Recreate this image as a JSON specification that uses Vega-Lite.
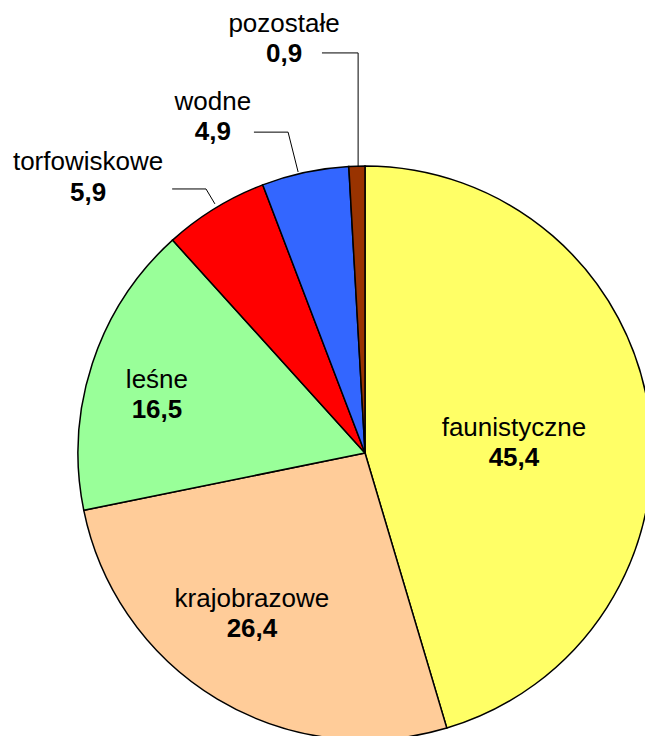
{
  "$schema": "https://vega.github.io/schema/vega-lite/v6.json",
  "width": 645,
  "height": 736,
  "autosize": {"type": "none"},
  "padding": 0,
  "background": "white",
  "datasets": {
    "slices": [
      {"idx": 1, "kategoria": "faunistyczne", "udzial": 45.4},
      {"idx": 2, "kategoria": "krajobrazowe", "udzial": 26.4},
      {"idx": 3, "kategoria": "leśne", "udzial": 16.5},
      {"idx": 4, "kategoria": "torfowiskowe", "udzial": 5.9},
      {"idx": 5, "kategoria": "wodne", "udzial": 4.9},
      {"idx": 6, "kategoria": "pozostałe", "udzial": 0.9}
    ]
  },
  "data": {"name": "slices"},
  "layer": [
    {
      "mark": {"type": "arc", "radius": 287, "stroke": "black", "strokeWidth": 1.5, "clip": true},
      "encoding": {
        "x": {"datum": 0, "type": "quantitative", "scale": {"domain": [-1.2718, 0.9756], "nice": false, "zero": false}},
        "y": {"datum": 0, "type": "quantitative", "scale": {"domain": [-0.9861, 1.5784], "nice": false, "zero": false}},
        "theta": {"field": "udzial", "type": "quantitative", "stack": true},
        "order": {"field": "idx", "type": "quantitative"},
        "color": {
          "field": "kategoria", "type": "nominal", "legend": null,
          "scale": {
            "domain": ["faunistyczne", "krajobrazowe", "leśne", "torfowiskowe", "wodne", "pozostałe"],
            "range": ["#FFFF66", "#FFCC99", "#99FF99", "#FF0000", "#3366FF", "#993300"]
          }
        }
      }
    },
    {"data": {"values": [{}]}, "mark": {"type": "rule", "color": "black", "strokeWidth": 1}, "encoding": {"x": {"datum": -0.15, "type": "quantitative"}, "y": {"datum": 1.394, "type": "quantitative"}, "x2": {"datum": -0.024}, "y2": {"datum": 1.394}}},
    {"data": {"values": [{}]}, "mark": {"type": "rule", "color": "black", "strokeWidth": 1}, "encoding": {"x": {"datum": -0.024, "type": "quantitative"}, "y": {"datum": 1.394, "type": "quantitative"}, "x2": {"datum": -0.024}, "y2": {"datum": 1.0}}},
    {"data": {"values": [{}]}, "mark": {"type": "rule", "color": "black", "strokeWidth": 1}, "encoding": {"x": {"datum": -0.387, "type": "quantitative"}, "y": {"datum": 1.118, "type": "quantitative"}, "x2": {"datum": -0.268}, "y2": {"datum": 1.118}}},
    {"data": {"values": [{}]}, "mark": {"type": "rule", "color": "black", "strokeWidth": 1}, "encoding": {"x": {"datum": -0.268, "type": "quantitative"}, "y": {"datum": 1.118, "type": "quantitative"}, "x2": {"datum": -0.233}, "y2": {"datum": 0.979}}},
    {"data": {"values": [{}]}, "mark": {"type": "rule", "color": "black", "strokeWidth": 1}, "encoding": {"x": {"datum": -0.672, "type": "quantitative"}, "y": {"datum": 0.92, "type": "quantitative"}, "x2": {"datum": -0.554}, "y2": {"datum": 0.92}}},
    {"data": {"values": [{}]}, "mark": {"type": "rule", "color": "black", "strokeWidth": 1}, "encoding": {"x": {"datum": -0.554, "type": "quantitative"}, "y": {"datum": 0.92, "type": "quantitative"}, "x2": {"datum": -0.523}, "y2": {"datum": 0.868}}},

    {"transform": [{"filter": "datum.kategoria === 'faunistyczne'"}], "mark": {"type": "text", "font": "Liberation Sans", "fontSize": 26, "baseline": "alphabetic", "color": "black"}, "encoding": {"x": {"datum": 0.519, "type": "quantitative"}, "y": {"datum": 0.059, "type": "quantitative"}, "text": {"field": "kategoria"}}},
    {"transform": [{"filter": "datum.kategoria === 'faunistyczne'"}], "mark": {"type": "text", "font": "Liberation Sans", "fontSize": 26, "fontWeight": "bold", "baseline": "alphabetic", "color": "black"}, "encoding": {"x": {"datum": 0.519, "type": "quantitative"}, "y": {"datum": -0.045, "type": "quantitative"}, "text": {"field": "udzial", "type": "quantitative", "format": ".1f"}}},

    {"transform": [{"filter": "datum.kategoria === 'krajobrazowe'"}], "mark": {"type": "text", "font": "Liberation Sans", "fontSize": 26, "baseline": "alphabetic", "color": "black"}, "encoding": {"x": {"datum": -0.394, "type": "quantitative"}, "y": {"datum": -0.537, "type": "quantitative"}, "text": {"field": "kategoria"}}},
    {"transform": [{"filter": "datum.kategoria === 'krajobrazowe'"}], "mark": {"type": "text", "font": "Liberation Sans", "fontSize": 26, "fontWeight": "bold", "baseline": "alphabetic", "color": "black"}, "encoding": {"x": {"datum": -0.394, "type": "quantitative"}, "y": {"datum": -0.641, "type": "quantitative"}, "text": {"field": "udzial", "type": "quantitative", "format": ".1f"}}},

    {"transform": [{"filter": "datum.kategoria === 'leśne'"}], "mark": {"type": "text", "font": "Liberation Sans", "fontSize": 26, "baseline": "alphabetic", "color": "black"}, "encoding": {"x": {"datum": -0.725, "type": "quantitative"}, "y": {"datum": 0.226, "type": "quantitative"}, "text": {"field": "kategoria"}}},
    {"transform": [{"filter": "datum.kategoria === 'leśne'"}], "mark": {"type": "text", "font": "Liberation Sans", "fontSize": 26, "fontWeight": "bold", "baseline": "alphabetic", "color": "black"}, "encoding": {"x": {"datum": -0.725, "type": "quantitative"}, "y": {"datum": 0.122, "type": "quantitative"}, "text": {"field": "udzial", "type": "quantitative", "format": ".1f"}}},

    {"transform": [{"filter": "datum.kategoria === 'torfowiskowe'"}], "mark": {"type": "text", "font": "Liberation Sans", "fontSize": 26, "baseline": "alphabetic", "color": "black"}, "encoding": {"x": {"datum": -0.965, "type": "quantitative"}, "y": {"datum": 0.986, "type": "quantitative"}, "text": {"field": "kategoria"}}},
    {"transform": [{"filter": "datum.kategoria === 'torfowiskowe'"}], "mark": {"type": "text", "font": "Liberation Sans", "fontSize": 26, "fontWeight": "bold", "baseline": "alphabetic", "color": "black"}, "encoding": {"x": {"datum": -0.965, "type": "quantitative"}, "y": {"datum": 0.878, "type": "quantitative"}, "text": {"field": "udzial", "type": "quantitative", "format": ".1f"}}},

    {"transform": [{"filter": "datum.kategoria === 'wodne'"}], "mark": {"type": "text", "font": "Liberation Sans", "fontSize": 26, "baseline": "alphabetic", "color": "black"}, "encoding": {"x": {"datum": -0.53, "type": "quantitative"}, "y": {"datum": 1.195, "type": "quantitative"}, "text": {"field": "kategoria"}}},
    {"transform": [{"filter": "datum.kategoria === 'wodne'"}], "mark": {"type": "text", "font": "Liberation Sans", "fontSize": 26, "fontWeight": "bold", "baseline": "alphabetic", "color": "black"}, "encoding": {"x": {"datum": -0.53, "type": "quantitative"}, "y": {"datum": 1.091, "type": "quantitative"}, "text": {"field": "udzial", "type": "quantitative", "format": ".1f"}}},

    {"transform": [{"filter": "datum.kategoria === 'pozostałe'"}], "mark": {"type": "text", "font": "Liberation Sans", "fontSize": 26, "baseline": "alphabetic", "color": "black"}, "encoding": {"x": {"datum": -0.282, "type": "quantitative"}, "y": {"datum": 1.467, "type": "quantitative"}, "text": {"field": "kategoria"}}},
    {"transform": [{"filter": "datum.kategoria === 'pozostałe'"}], "mark": {"type": "text", "font": "Liberation Sans", "fontSize": 26, "fontWeight": "bold", "baseline": "alphabetic", "color": "black"}, "encoding": {"x": {"datum": -0.282, "type": "quantitative"}, "y": {"datum": 1.362, "type": "quantitative"}, "text": {"field": "udzial", "type": "quantitative", "format": ".1f"}}}
  ],
  "config": {
    "axis": {"disable": true},
    "view": {"stroke": null},
    "locale": {"number": {"decimal": ",", "thousands": "\u00a0", "grouping": [3], "currency": ["", " zł"]}}
  }
}
